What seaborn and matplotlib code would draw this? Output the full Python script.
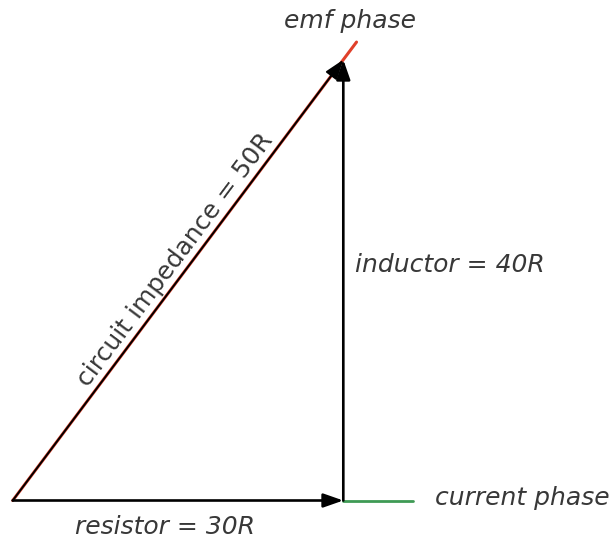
import numpy as np
import pandas as pd
import seaborn as sns
import matplotlib
matplotlib.use("Agg")
import matplotlib.pyplot as plt

# ---- data (values in units of R) ----
resistor = 30          # horizontal phasor
inductor = 40          # vertical phasor
impedance = 50         # resultant
emf_extent = 52        # red "emf phase" reference line length along the resultant
current_extent = 36.3  # green "current phase" reference line end
labels = {
    "resistor": "resistor = 30R",
    "inductor": "inductor = 40R",
    "impedance": "circuit impedance = 50R",
    "emf": "emf phase",
    "current": "current phase",
}

sns.set_theme(style="white")
plt.rcParams['font.family'] = ['DejaVu Sans']

fig = plt.figure(figsize=(6.16, 5.39), dpi=100)
ax = fig.add_axes([0, 0, 1, 1])
s = 11.02
ox, oy = 12.7, 500.5
ax.set_xlim(-ox / s, (616 - ox) / s)
ax.set_ylim(-(539 - oy) / s, oy / s)
ax.set_axis_off()

angle = np.degrees(np.arctan2(inductor, resistor))
ux, uy = resistor / impedance, inductor / impedance

# reference lines
green = pd.DataFrame({"x": [resistor, current_extent], "y": [0, 0]})
sns.lineplot(data=green, x="x", y="y", ax=ax, color="#3f9a55", linewidth=2.0, sort=False)
red = pd.DataFrame({"x": [0, emf_extent * ux], "y": [0, emf_extent * uy]})
sns.lineplot(data=red, x="x", y="y", ax=ax, color="#e0402a", linewidth=2.2, sort=False)

# phasor arrows
def arrow(x0, y0, x1, y1, lw):
    ax.annotate("", xy=(x1, y1), xytext=(x0, y0),
                arrowprops=dict(arrowstyle="-|>,head_length=0.4,head_width=0.14",
                                mutation_scale=30, color="black", lw=lw,
                                shrinkA=0, shrinkB=0))

arrow(0, 0, resistor, 0, 1.9)
arrow(resistor, 0, resistor, inductor, 1.9)
arrow(0, 0, impedance * ux, impedance * uy, 1.4)

tc = "#383838"
fs = 18
ax.text(30.6, 42.9, labels["emf"], ha="center", va="baseline", fontsize=fs,
        style="italic", color=tc)
ax.text(31.08, 20.73, labels["inductor"], ha="left", va="baseline", fontsize=fs,
        style="italic", color=tc)
ax.text(38.3, -0.41, labels["current"], ha="left", va="baseline", fontsize=fs,
        style="italic", color=tc)
ax.text(13.86, -3.04, labels["resistor"], ha="center", va="baseline", fontsize=fs,
        style="italic", color=tc)
d = 26.3
ax.text(d * ux - 0.2 * uy, d * uy + 0.2 * ux, labels["impedance"], ha="center",
        va="bottom", rotation=angle, rotation_mode="anchor", fontsize=fs, color=tc)

fig.savefig("out.png", dpi=100)
